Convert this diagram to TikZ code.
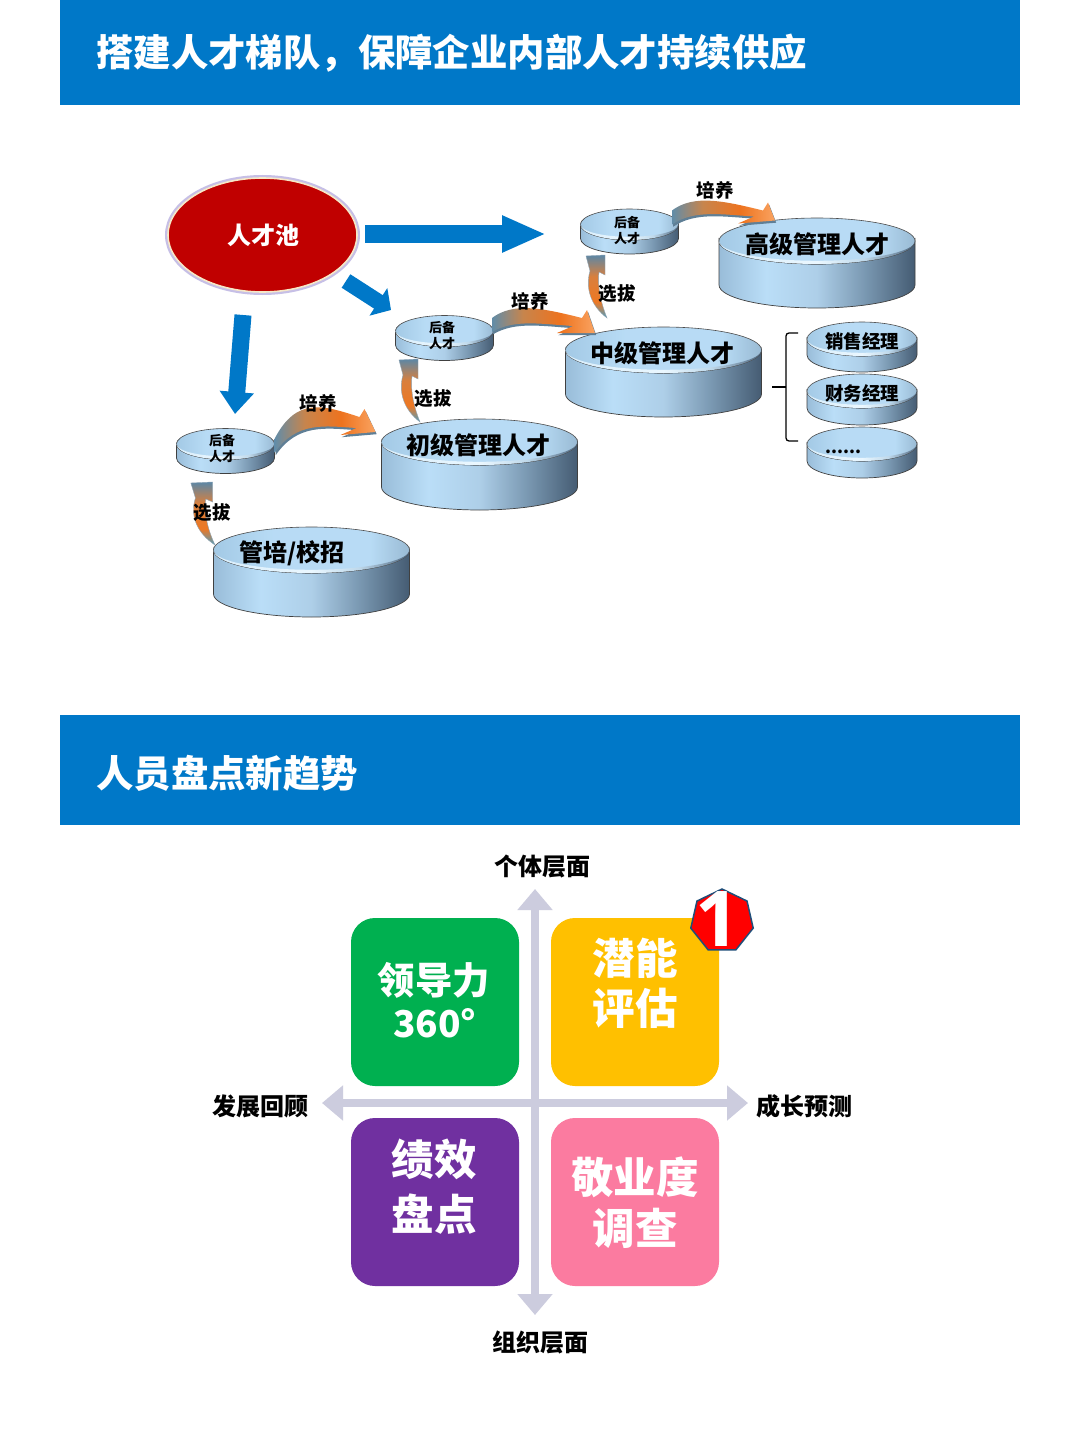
\documentclass[tikz,border=0pt]{standalone}
\usepackage{fontspec}
\setmainfont{Noto Sans CJK SC}
\newfontfamily\digitfont{Open Sans}
\usetikzlibrary{shapes.geometric,arrows.meta,calc}
\definecolor{bannerblue}{HTML}{0078C8}
\definecolor{axisgrey}{HTML}{CCCCDE}
\definecolor{poolred}{HTML}{C00000}
\definecolor{poolcream}{HTML}{F6E8C8}
\definecolor{poolring}{HTML}{C6BFE6}
\definecolor{cardgreen}{HTML}{00B050}
\definecolor{cardyellow}{HTML}{FFC000}
\definecolor{cardpurple}{HTML}{7030A0}
\definecolor{cardpink}{HTML}{FB7BA0}
\definecolor{badgeedge}{HTML}{1F4E79}
\definecolor{arrowback}{HTML}{5F7F96}
\pgfdeclarehorizontalshading{discside}{100bp}{
  rgb(0bp)=(0.60,0.74,0.85);
  rgb(25bp)=(0.60,0.74,0.85);
  rgb(37bp)=(0.73,0.87,0.97);
  rgb(50bp)=(0.68,0.81,0.91);
  rgb(62bp)=(0.48,0.60,0.70);
  rgb(75bp)=(0.27,0.36,0.45);
  rgb(100bp)=(0.27,0.36,0.45)}
\pgfdeclarehorizontalshading{disctop}{100bp}{
  rgb(0bp)=(0.64,0.79,0.90);
  rgb(25bp)=(0.64,0.79,0.90);
  rgb(40bp)=(0.72,0.86,0.96);
  rgb(65bp)=(0.72,0.86,0.96);
  rgb(75bp)=(0.60,0.73,0.83);
  rgb(100bp)=(0.60,0.73,0.83)}
\pgfdeclarehorizontalshading{discrim}{100bp}{
  rgb(0bp)=(0.85,0.93,0.98);
  rgb(25bp)=(0.85,0.93,0.98);
  rgb(50bp)=(0.92,0.97,1.0);
  rgb(62bp)=(0.75,0.85,0.92);
  rgb(75bp)=(0.30,0.40,0.50);
  rgb(100bp)=(0.30,0.40,0.50)}
\pgfdeclarehorizontalshading{growshade}{100bp}{
  rgb(0bp)=(0.38,0.55,0.66);
  rgb(25bp)=(0.38,0.55,0.66);
  rgb(40bp)=(0.78,0.52,0.30);
  rgb(58bp)=(0.93,0.45,0.12);
  rgb(75bp)=(0.98,0.64,0.38);
  rgb(100bp)=(0.98,0.64,0.38)}
\pgfdeclareverticalshading{pickshade}{100bp}{
  rgb(0bp)=(0.30,0.62,0.75);
  rgb(25bp)=(0.30,0.62,0.75);
  rgb(38bp)=(0.93,0.47,0.14);
  rgb(58bp)=(0.85,0.50,0.24);
  rgb(75bp)=(0.36,0.53,0.65);
  rgb(100bp)=(0.36,0.53,0.65)}
\newcommand{\fs}[1]{\fontsize{#1}{#1}\selectfont\bfseries}
% name, cx, cy, rx, ry, height
\newcommand{\mydisc}[6]{%
  \path[shading=discside,draw=black!75,line width=.7pt]
    ({#2-#4},#3) -- ({#2-#4},{#3+#6})
    arc[start angle=180,end angle=0,x radius=#4,y radius=#5]
    -- ({#2+#4},#3) arc[start angle=0,end angle=180,x radius=#4,y radius=#5] -- cycle;
  \node[ellipse,inner sep=0pt,outer sep=0pt,minimum width=#4*2pt,minimum height=#5*2pt,
        shading=disctop,draw=black!70,line width=.6pt] (#1) at (#2,#3) {};
  \path[shading=discrim]
    ({#2-#4},#3) arc[start angle=180,end angle=0,x radius=#4,y radius=#5]
    arc[start angle=0,end angle=180,x radius=#4,y radius={#5-3.2}] -- cycle;
}
% tail anchor, six numbers: top of head (x,y), tip, lower corner
\newcommand{\growarrow}[7]{%
  \begin{scope}[shift={(#1)}]
    \foreach \dx/\dy/\kind in {1.2/2.2/backarrow,0/0/frontarrow}{
      \path[shift={(\dx,\dy)},\kind]
        (0,-5) .. controls (22,{#3*1.2-6}) and ({#2*.55},{#3*1.1}) .. ({#2-5},{#3+8})
        -- (#2,#3) -- (#4,#5) -- (#6,#7) -- ({#6+16},{#7-7})
        .. controls ({#6-16},{#7-9}) and (22,{#7-14}) .. (0,9) -- cycle;
    }
  \end{scope}%
}
% bottom anchor, xscale
\newcommand{\pickarrow}[2]{%
  \begin{scope}[shift={(#1)},xscale=#2]
    \path[shading=pickshade,draw=arrowback!70,line width=.4pt]
      (0,0) .. controls (-16,-12) and (-22,-30) .. (-17,-47)
      -- (-21,-62) -- (-2,-63) -- (-2,-43) -- (-8,-46)
      .. controls (-10,-30) and (-5,-12) .. (0,0) -- cycle;
  \end{scope}%
}
\tikzset{
  banner/.style={fill=bannerblue},
  bannertext/.style={text=white,font=\fs{37.4},anchor=west,inner sep=0pt},
  backarrow/.style={fill=arrowback},
  frontarrow/.style={shading=growshade},
  discbig/.style={font=\fs{24},text=black,inner sep=0pt},
  discmid/.style={font=\fs{18.5},text=black,inner sep=0pt},
  discsmall/.style={font=\fs{13},text=black,inner sep=0pt,align=center},
  tag/.style={font=\fs{18.5},text=black,inner sep=0pt},
  axislabel/.style={font=\fs{24},text=black,inner sep=0pt},
  blockarrow/.style={draw=bannerblue,line width=18pt},
  axisarrow/.style={draw=axisgrey,line width=8pt,{Triangle[length=21pt,width=34pt]}-{Triangle[length=21pt,width=34pt]}},
  card/.style={rounded corners=24pt,minimum size=168pt,inner sep=0pt,outer sep=0pt},
  cardtext/.style={text=white,align=center,inner sep=0pt},
}
\begin{document}
\begin{tikzpicture}[x=1pt,y=-1pt]
\useasboundingbox (0,0) rectangle (1080,1439);
\fill[white] (0,0) rectangle (1080,1439);
% banners
\node[banner,minimum width=960pt,minimum height=105pt,inner sep=0pt,anchor=north west] (b1) at (60,0) {};
\node[banner,minimum width=960pt,minimum height=110pt,inner sep=0pt,anchor=north west] (b2) at (60,715) {};
\node[bannertext] (t1) at (96,53.5) {搭建人才梯队，保障企业内部人才持续供应};
\node[bannertext] (t2) at (96,773.5) {人员盘点新趋势};
% talent pool
\node[ellipse,inner sep=0pt,outer sep=0pt,minimum width=189pt,minimum height=114pt,
      fill=poolred,draw=poolcream,line width=1.6pt,preaction={draw=poolring,line width=6pt}] (pool) at (262.5,235) {};
\node[font=\fs{24},text=white,inner sep=0pt] (poolt) at (263,235) {人才池};
% block arrows
\coordinate (a1s) at (365,234); \coordinate (a1e) at (546,234);
\coordinate (a2s) at (346,281); \coordinate (a2e) at (391,310);
\coordinate (a3s) at (243,315); \coordinate (a3e) at (235,414);
\draw[blockarrow,-{Triangle[length=44pt,width=34pt]}] (a1s) -- (a1e);
\draw[blockarrow,line width=16pt,-{Triangle[length=15pt,width=32pt]}] (a2s) -- (a2e);
\draw[blockarrow,line width=17pt,-{Triangle[length=22pt,width=33pt]}] (a3s) -- (a3e);
% discs
\mydisc{d4}{817}{241}{98}{23}{44}
\mydisc{d3}{663.5}{350}{98}{23}{44}
\mydisc{d2}{479.5}{442}{98}{23}{45}
\mydisc{d1}{311.5}{550}{98}{23}{44}
\mydisc{h3}{629.5}{224.5}{49}{15.5}{14}
\mydisc{h2}{444.5}{331}{49}{15.5}{14}
\mydisc{h1}{225.5}{444}{49}{15.5}{14}
\mydisc{s1}{862}{339}{55}{17}{16}
\mydisc{s2}{862}{391}{55}{17}{17}
\mydisc{s3}{862}{444}{55}{17}{17}
\node[discbig] (d4t) at (817,244) {高级管理人才};
\node[discbig] (d3t) at (662,353) {中级管理人才};
\node[discbig] (d2t) at (478,445) {初级管理人才};
\node[discbig] (d1t) at (292,553) {管培/校招};
\node[discsmall] (h3t) at (627,231) {后备\\[3pt]人才};
\node[discsmall] (h2t) at (442,336) {后备\\[3pt]人才};
\node[discsmall] (h1t) at (222,449) {后备\\[3pt]人才};
\node[discmid] (s1t) at (862,341) {销售经理};
\node[discmid] (s2t) at (862,393) {财务经理};
\node[discmid,anchor=west,font=\fs{17}] (s3t) at (825,452) {......};
% growth arrows (培养)
\growarrow{h1.east}{90}{-35}{101}{-12}{66}{-9}
\growarrow{$(h2.east)+(-1.5,-8)$}{95}{-13}{103}{10}{65}{10}
\growarrow{$(h3.east)+(-6.5,-9)$}{96}{-13}{103}{5}{66}{8}
% selection arrows (选拔)
\pickarrow{$(d1.north)+(-96.5,18)$}{1.15}
\pickarrow{$(d2.north)+(-59.5,3)$}{1}
\pickarrow{$(d3.north)+(-56.5,-9)$}{1}
\node[tag] (g1) at (318,403) {培养};
\node[tag] (g2) at (530,301) {培养};
\node[tag] (g3) at (715,190) {培养};
\node[tag] (x1) at (212,513) {选拔};
\node[tag] (x2) at (433,399) {选拔};
\node[tag] (x3) at (617,294) {选拔};
% brace
\coordinate (br1) at (798,333); \coordinate (br2) at (786,333);
\coordinate (br3) at (786,441); \coordinate (br4) at (798,441);
\coordinate (br5) at (772,387); \coordinate (br6) at (786,387);
\draw[black,line width=1.3pt,rounded corners=3pt] (br1) -- (br2) -- (br3) -- (br4);
\draw[black,line width=1.3pt] (br5) -- (br6);
% quadrant
\coordinate (vt) at (535,889); \coordinate (vb) at (535,1315);
\coordinate (hl) at (322,1103); \coordinate (hr) at (748,1103);
\draw[axisarrow] (vb) -- (vt);
\draw[axisarrow] (hl) -- (hr);
\node[card,fill=cardgreen] (c1) at (435,1002) {};
\node[card,fill=cardyellow] (c2) at (635,1002) {};
\node[card,fill=cardpurple] (c3) at (435,1202) {};
\node[card,fill=cardpink] (c4) at (635,1202) {};
\node[cardtext,font=\fs{37.4}] (c1a) at (434,980) {领导力};
\node[cardtext,font=\fs{37}] (c1b) at (435,1023) {360°};
\node[cardtext,font=\fs{42.5}] (c2a) at (635,958) {潜能};
\node[cardtext,font=\fs{42.5}] (c2b) at (635,1008) {评估};
\node[cardtext,font=\fs{42.5}] (c3a) at (434,1159) {绩效};
\node[cardtext,font=\fs{42.5}] (c3b) at (434,1214) {盘点};
\node[cardtext,font=\fs{42.5}] (c4a) at (635,1177) {敬业度};
\node[cardtext,font=\fs{42.5}] (c4b) at (635,1228) {调查};
\node[regular polygon,regular polygon sides=7,minimum size=64pt,inner sep=0pt,fill=red,draw=badgeedge,line width=1.5pt] (badge) at (722,921) {};
\node[text=white,font={\fs{77}\digitfont},inner sep=0pt] (badget) at (717,919) {1};
\node[axislabel] (l1) at (542,866) {个体层面};
\node[axislabel] (l2) at (260,1106) {发展回顾};
\node[axislabel] (l3) at (804,1106) {成长预测};
\node[axislabel] (l4) at (540,1342) {组织层面};
\end{tikzpicture}
\end{document}
